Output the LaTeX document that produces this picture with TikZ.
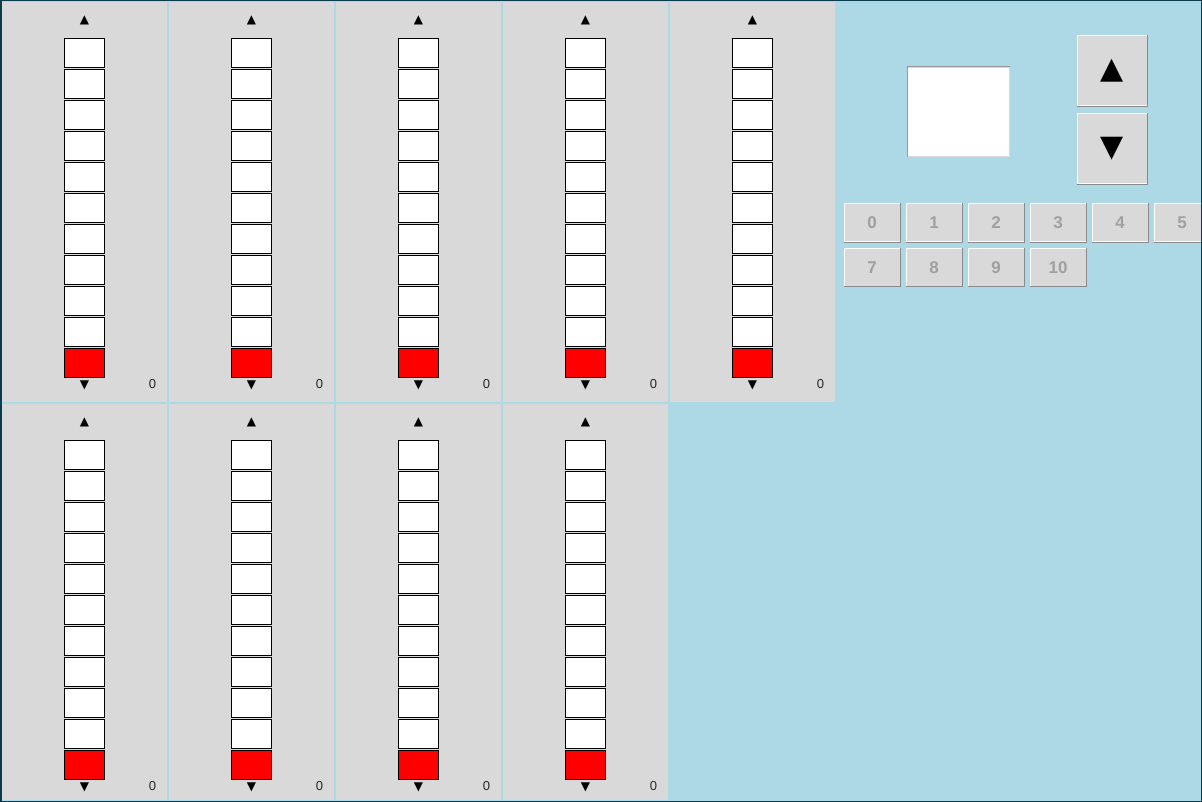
\documentclass[tikz,border=0pt]{standalone}
\usepackage{fontspec}
\setmainfont{Liberation Sans}
\newfontfamily\tipfont{DejaVu Sans}
\definecolor{panelgray}{HTML}{D9D9D9}
\definecolor{skyback}{HTML}{ADD8E6}
\definecolor{framedark}{HTML}{0B3C4E}
\definecolor{btntext}{HTML}{A0A0A0}
\definecolor{btnshade}{HTML}{8A8A8A}
\definecolor{sunkshade}{HTML}{9C9898}
\definecolor{levelred}{HTML}{FF0000}

\begin{document}
\begin{tikzpicture}[x=1pt,y=-1pt,
	panel/.style={rectangle, fill=panelgray, minimum width=165pt, inner sep=0pt, anchor=north west},
	cell/.style={rectangle, draw=black, line width=1pt, fill=white, minimum width=40pt, minimum height=29pt, inner sep=0pt},
	tip/.style={inner sep=0pt, font=\tipfont\fontsize{12}{12}\selectfont},
	count/.style={inner sep=0pt, text=black!85, font=\fontsize{13}{13}\selectfont},
	raised/.style={rectangle, fill=panelgray, draw=white, line width=1pt, inner sep=0pt, anchor=north west},
	numbtn/.style={raised, minimum width=56pt, minimum height=38pt, text=btntext, font=\bfseries\fontsize{17}{17}\selectfont},
	bigbtn/.style={raised, minimum width=70pt, minimum height=70pt, font=\tipfont\fontsize{30}{30}\selectfont},
	shade/.style={draw=btnshade, line width=1pt}]
	\useasboundingbox (0,0) rectangle (1202,802);
	\fill[skyback] (0,0) rectangle (1202,802);
	% level columns, two rows
	\foreach \r/\dy/\h/\last in {t/0/400/4, b/402/396/3} {
		\foreach \k in {0,...,\last} {
			\node (P\r\k) at ({2+167*\k}, {2+\dy}) [panel, minimum height=\h pt] {};
			\node (U\r\k) at ({84.5+167*\k}, {20+\dy}) [tip] {▲};
			\foreach \j in {0,...,9}
				\node (C\r\k-\j) at ({84.5+167*\k}, {53+\dy+31*\j}) [cell] {};
			\node (C\r\k-10) at ({84.5+167*\k}, {363+\dy}) [cell, fill=levelred] {};
			\node (D\r\k) at ({84.5+167*\k}, {385+\dy}) [tip] {▼};
			\node (N\r\k) at ({152.5+167*\k}, {384.5+\dy}) [count] {0};
		}
	}
	% display and up/down buttons
	\node (display) at (907,67) [rectangle, fill=white, draw=white!85!black, line width=1pt, minimum width=102pt, minimum height=89pt, anchor=north west] {};
	\draw[sunkshade, line width=1pt] (display.south west) -- (display.north west) -- (display.north east);
	\node (up) at (1076.5,35.5) [bigbtn] {▲};
	\node (down) at (1076.5,113.5) [bigbtn] {▼};
	\draw[shade] (up.south west) -- (up.south east) -- (up.north east);
	\draw[shade] (down.south west) -- (down.south east) -- (down.north east);
	% number buttons
	\foreach \n [count=\i from 0] in {0,...,5} {
		\node (B\n) at ({843.5+62*\i}, 203.5) [numbtn] {\n};
		\draw[shade] (B\n.south west) -- (B\n.south east) -- (B\n.north east);
	}
	\foreach \n [count=\i from 0] in {7,8,9,10} {
		\node (B\n) at ({843.5+62*\i}, 248) [numbtn] {\n};
		\draw[shade] (B\n.south west) -- (B\n.south east) -- (B\n.north east);
	}
	\draw[framedark, line width=1.5pt] (0.75,0.75) rectangle (1201.25,801.25);
\end{tikzpicture}
\end{document}
